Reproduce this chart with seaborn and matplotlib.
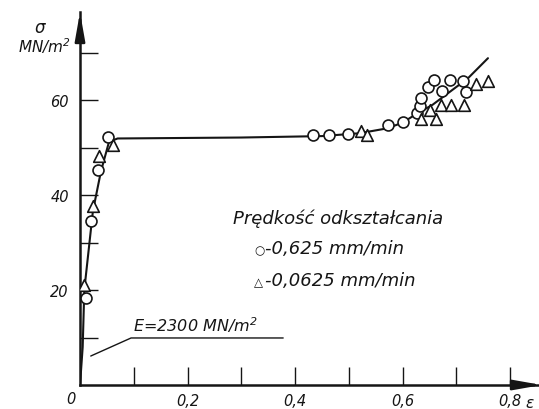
import matplotlib
matplotlib.use("Agg")
import matplotlib.pyplot as plt
import seaborn as sns
import numpy as np

# ---- data ----
fast_strain = [0.011, 0.020, 0.034, 0.052, 0.434, 0.464, 0.499, 0.573, 0.601,
               0.627, 0.632, 0.635, 0.647, 0.659, 0.673, 0.688, 0.713, 0.718]
fast_stress = [18.3, 34.5, 45.3, 52.2, 52.6, 52.6, 52.8, 54.8, 55.3,
               57.3, 58.8, 60.4, 62.7, 64.3, 62.0, 64.3, 63.9, 61.6]

slow_strain = [0.008, 0.024, 0.036, 0.061, 0.523, 0.534, 0.635, 0.652, 0.663,
               0.672, 0.691, 0.714, 0.737, 0.759]
slow_stress = [21.0, 37.7, 48.2, 50.5, 53.4, 52.6, 55.9, 58.0, 55.9,
               59.0, 59.0, 59.0, 63.4, 63.9]

curve_strain = [0.0, 0.005, 0.008, 0.024, 0.039, 0.054, 0.07, 0.30, 0.45,
                0.52, 0.57, 0.60, 0.622, 0.656, 0.722, 0.759]
curve_stress = [0.0, 8.0, 20.0, 36.6, 45.0, 51.2, 51.9, 52.1, 52.4,
                53.0, 54.0, 55.2, 56.8, 59.0, 64.6, 68.8]

x_major = [0.2, 0.4, 0.6, 0.8]
x_major_labels = ["0,2", "0,4", "0,6", "0,8"]
x_minor = [0.1, 0.3, 0.5, 0.7]
y_major = [20, 40, 60]
y_major_labels = ["20", "40", "60"]
y_minor = [10, 30, 50, 70]

legend_title = "Prędkość odkształcania"
legend_symbols = ["○", "△"]
legend_rates = ["-0,625 mm/min", "-0,0625 mm/min"]
modulus_label = "E=2300 MN/m$^2$"

# ---- figure ----
sns.set_style("ticks")
plt.rcParams["font.family"] = ["DejaVu Sans"]
plt.rcParams["font.style"] = "italic"
plt.rcParams["mathtext.default"] = "it"

ink = "#151515"
W, H = 539, 410
fig = plt.figure(figsize=(W / 100, H / 100), dpi=100)
x0px, y0px = 80, 386
sx, sy = 537.5, 4.75
xmax, ymax = 0.855, 78.5
ax = fig.add_axes([x0px / W, (H - y0px) / H, xmax * sx / W, ymax * sy / H])

sns.lineplot(x=curve_strain, y=curve_stress, ax=ax, color=ink, lw=1.5,
             sort=False, estimator=None, zorder=2)
sns.scatterplot(x=fast_strain, y=fast_stress, ax=ax, marker="o", s=62,
                facecolor="white", edgecolor=ink, linewidth=1.2, zorder=3)
sns.scatterplot(x=slow_strain, y=slow_stress, ax=ax, marker="^", s=70,
                facecolor="white", edgecolor=ink, linewidth=1.2, zorder=3)

ax.set_xlim(0, xmax)
ax.set_ylim(0, ymax)
for s in ["top", "right"]:
    ax.spines[s].set_visible(False)
for s in ["left", "bottom"]:
    ax.spines[s].set_linewidth(1.8)
    ax.spines[s].set_color(ink)

ax.set_xticks(x_major)
ax.set_xticklabels(x_major_labels)
ax.set_xticks(x_minor, minor=True)
ax.set_yticks(y_major)
ax.set_yticklabels(y_major_labels)
ax.set_yticks(y_minor, minor=True)
ax.tick_params(which="both", direction="in", length=13, width=1.0,
               color=ink, labelsize=10.5, labelcolor=ink)
ax.tick_params(axis="x", pad=6)
ax.tick_params(axis="y", pad=8)

# axis arrows
ax.annotate("", xy=(0, 1.0), xycoords="axes fraction", xytext=(0, 0.93),
            arrowprops=dict(arrowstyle="-|>,head_length=1.7,head_width=0.3",
                            color=ink, lw=1.8, shrinkA=0, shrinkB=0),
            annotation_clip=False)
ax.annotate("", xy=(1.005, 0), xycoords="axes fraction", xytext=(0.94, 0),
            arrowprops=dict(arrowstyle="-|>,head_length=1.7,head_width=0.3",
                            color=ink, lw=1.8, shrinkA=0, shrinkB=0),
            annotation_clip=False)

# axis labels
fig.text(71 / W, 1 - 400 / H, "0", fontsize=10.5, color=ink,
         ha="center", va="center")
fig.text(40 / W, 1 - 28 / H, "σ", fontsize=12, color=ink, ha="center", va="center")
fig.text(44 / W, 1 - 53 / H, "MN/m$^2$", fontsize=11, color=ink, ha="center", va="baseline")
fig.text(530 / W, 1 - 408 / H, "ε", fontsize=11, color=ink, ha="center", va="baseline")

# legend-like text
ax.text(0.285, 34.1, legend_title, fontsize=13, color=ink, va="baseline")
for yb, sym, rate in zip([27.8, 21.1], legend_symbols, legend_rates):
    ax.text(0.324, yb, sym, fontsize=8.5, color=ink, va="baseline", style="normal")
    ax.annotate(rate, xy=(0.324, yb), xytext=(7.5, 0), textcoords="offset points",
                fontsize=13, color=ink, va="baseline")

# modulus annotation with leader line and underline
ax.text(0.099, 11.3, modulus_label, fontsize=11.5, color=ink, va="baseline")
ax.plot([0.020, 0.095, 0.378], [6.1, 9.9, 9.9], color=ink, lw=1.0)

fig.savefig("out.png", dpi=100)
